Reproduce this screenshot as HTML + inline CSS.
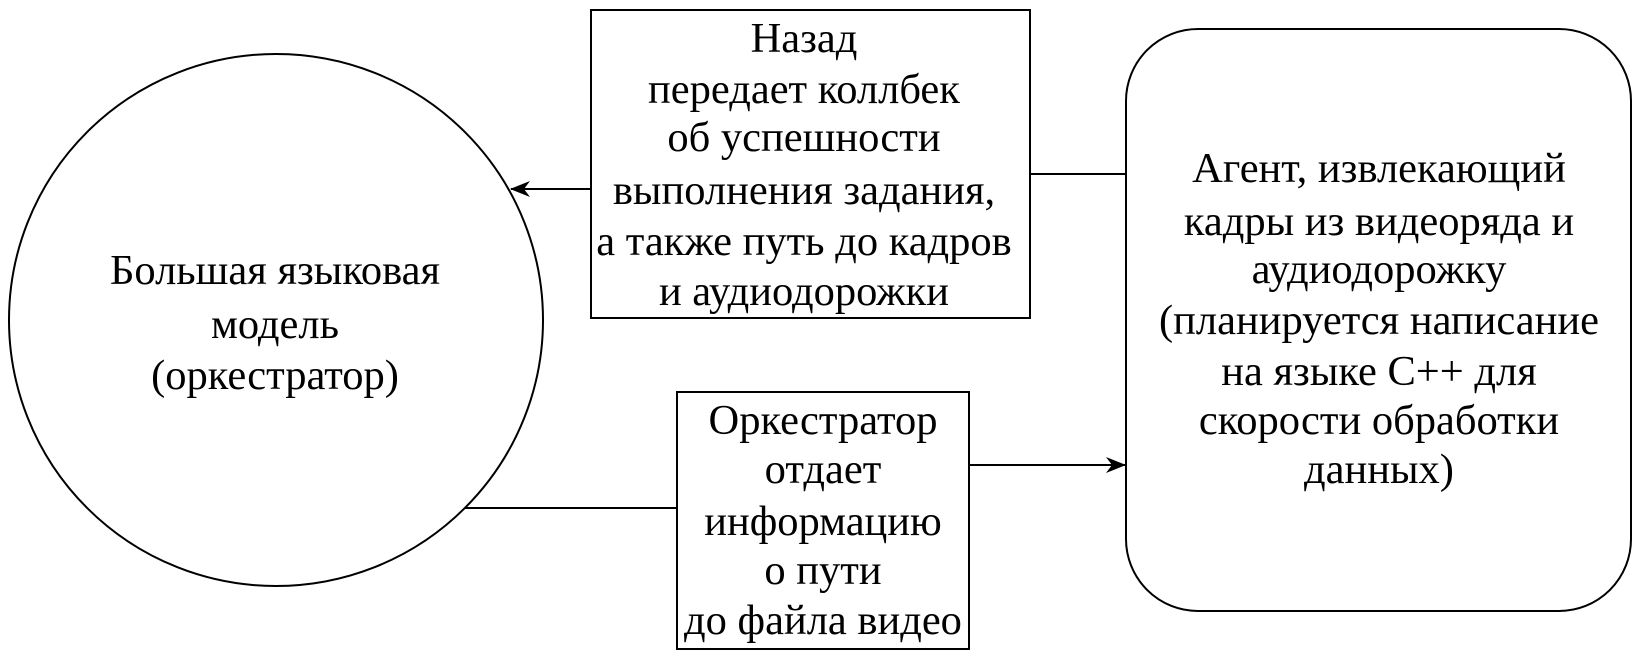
<!DOCTYPE html>
<html><head><meta charset="utf-8"><style>
html,body{margin:0;padding:0;background:#fff;}
svg{display:block;}
text{font-family:"Liberation Serif",serif;font-size:42.5px;fill:#000;text-anchor:middle;}
</style></head><body>
<svg width="1646" height="665" viewBox="0 0 1646 665" xmlns="http://www.w3.org/2000/svg">
<defs>
<marker id="ah" markerWidth="20" markerHeight="16" refX="19" refY="8" orient="auto" markerUnits="userSpaceOnUse">
<path d="M0,0 L20,8 L0,16 L6,8 z" fill="#000"/>
</marker>
</defs>
<g fill="none" stroke="#000" stroke-width="2">
<ellipse cx="276" cy="320" rx="267" ry="266"/>
<rect x="591" y="10" width="439" height="308"/>
<rect x="677" y="392" width="292" height="257"/>
<rect x="1126" y="29" width="505" height="582" rx="72" ry="72"/>
<line x1="1030" y1="174" x2="1126" y2="174"/>
<line x1="591" y1="189" x2="511" y2="189" marker-end="url(#ah)"/>
<line x1="465" y1="508" x2="677" y2="508"/>
<line x1="969" y1="465" x2="1125" y2="465" marker-end="url(#ah)"/>
</g>
<text x="275" y="284">Большая языковая</text>
<text x="275" y="338">модель</text>
<text x="275" y="389">(оркестратор)</text>

<text x="804" y="52">Назад</text>
<text x="804" y="103">передает коллбек</text>
<text x="804" y="151">об успешности</text>
<text x="804" y="204">выполнения задания,</text>
<text x="804" y="255">а также путь до кадров</text>
<text x="804" y="305">и аудиодорожки</text>

<text x="823" y="434">Оркестратор</text>
<text x="823" y="483">отдает</text>
<text x="823" y="535">информацию</text>
<text x="823" y="584">о пути</text>
<text x="823" y="634">до файла видео</text>

<text x="1379" y="182">Агент, извлекающий</text>
<text x="1379" y="235">кадры из видеоряда и</text>
<text x="1379" y="283">аудиодорожку</text>
<text x="1379" y="334">(планируется написание</text>
<text x="1379" y="385">на языке C++ для</text>
<text x="1379" y="434">скорости обработки</text>
<text x="1379" y="483">данных)</text>
</svg>
</body></html>
